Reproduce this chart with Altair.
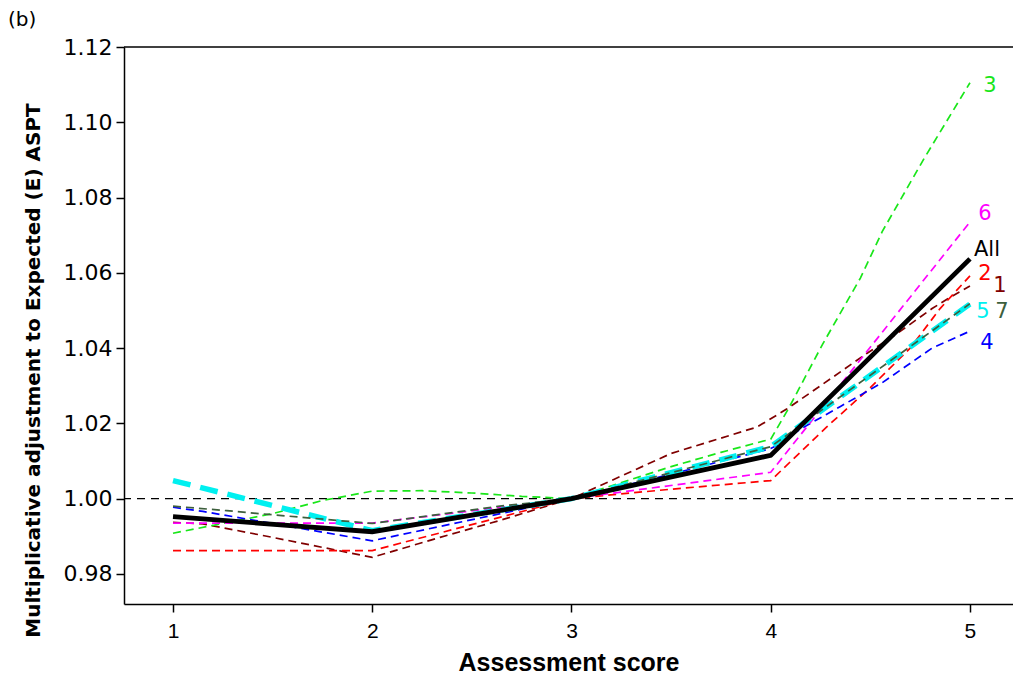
import altair as alt
import pandas as pd

# ---- data ----
x1 = [1, 1.15, 1.5, 2, 2.34, 2.64, 3, 3.5, 3.93, 4, 4.08, 4.31, 4.48, 4.63, 4.81, 4.9, 5]
y1 = [0.9937, 0.9933, 0.9897, 0.9844, 0.9897, 0.9942, 1.000, 1.012, 1.019, 1.0212, 1.0238,
      1.0322, 1.0385, 1.0437, 1.0505, 1.0535, 1.0565]

x2 = [1, 2, 3, 3.5, 4, 4.28, 4.5, 4.7, 4.85, 5]
y2 = [0.9862, 0.9862, 1.000, 1.0025, 1.0048, 1.019, 1.0295, 1.040, 1.0505, 1.0592]

x3 = [1, 1.5, 1.75, 2, 2.25, 2.5, 2.75, 3, 3.5, 3.75, 4, 4.09, 4.26, 4.45, 4.56, 4.77, 5]
y3 = [0.9908, 0.996, 0.9995, 1.002, 1.0021, 1.0015, 1.0006, 1.000, 1.0085, 1.0123, 1.0158,
      1.024, 1.041, 1.0586, 1.071, 1.0904, 1.1105]

x4 = [1, 1.15, 2, 3, 3.5, 4, 4.05, 4.15, 4.35, 4.56, 4.81, 5]
y4 = [0.9977, 0.9966, 0.9888, 1.000, 1.0065, 1.0133, 1.0146, 1.0185, 1.0245, 1.0308, 1.040, 1.0445]

x5 = [1, 2, 3, 4, 5]
y5 = [1.0048, 0.9915, 1.000, 1.0138, 1.0517]

x6 = [1, 2, 3, 4, 5]
y6 = [0.9935, 0.9935, 1.000, 1.007, 1.0735]

x7 = [1, 1.27, 1.5, 2, 2.64, 3, 4, 5]
y7 = [0.998, 0.9968, 0.9957, 0.9934, 0.998, 1.000, 1.0138, 1.0518]

x_all = [1, 2, 3, 4, 5]
y_all = [0.9952, 0.9912, 1.000, 1.0115, 1.0637]

y_ticks = [0.98, 1.00, 1.02, 1.04, 1.06, 1.08, 1.10, 1.12]
x_ticks = [1, 2, 3, 4, 5]

series = [
    # name, xs, ys, colour, width, dash, label dx, label dy
    ("1", x1, y1, "#800000", 1.7, [8, 5], 30, 0),
    ("2", x2, y2, "#ff0000", 1.7, [8, 5], 15, -2),
    ("3", x3, y3, "#19e619", 1.7, [8, 5], 20, 3),
    ("4", x4, y4, "#0000ff", 1.7, [8, 5], 17, 12),
    ("6", x6, y6, "#ff00ff", 1.7, [8, 5], 15, -8),
    ("5", x5, y5, "#00f0f0", 5.5, [18, 10], 13, 8),
    ("7", x7, y7, "#3d5f3d", 1.7, [8, 5], 32, 8),
    ("All", x_all, y_all, "#000000", 4.8, None, 17, -9),
]

W, H = 889, 557
xscale = alt.Scale(domain=[0.754, 5.216], nice=False, zero=False)
yscale = alt.Scale(domain=[0.972, 1.12], nice=False, zero=False)

x_enc = alt.X("score:Q", scale=xscale, axis=alt.Axis(
    values=x_ticks, format="d", title="Assessment score",
    labelFont="Liberation Sans Narrow, Liberation Sans", labelFontSize=21, labelPadding=8,
    titleFont="Liberation Sans", titleFontSize=25, titleFontWeight="bold",
    titleY=58, titleBaseline="middle"))
y_enc = alt.Y("adj:Q", scale=yscale, axis=alt.Axis(
    values=y_ticks, format=".2f", title="Multiplicative adjustment to Expected (E) ASPT",
    labelFont="DejaVu Sans", labelFontSize=22, labelPadding=4,
    titleFont="DejaVu Sans", titleFontSize=20, titleFontWeight="bold",
    titleX=-91, titleY=323, titleAlign="center", titleBaseline="middle", titleAngle=-90))

layers = []

# reference line at 1.00
ref = alt.Chart(pd.DataFrame({"adj": [1.0]})).mark_rule(
    color="black", strokeWidth=1.3, strokeDash=[8, 6]).encode(y=y_enc)
layers.append(ref)

# top frame line
top = alt.Chart(pd.DataFrame({"adj": [1.12]})).mark_rule(
    color="black", strokeWidth=1.5).encode(y=y_enc)
layers.append(top)

for name, xs, ys, col, w, dash, dx, dy in series:
    df = pd.DataFrame({"score": xs, "adj": ys, "series": name})
    kw = dict(color=col, strokeWidth=w, clip=True)
    if dash:
        kw["strokeDash"] = dash
    layers.append(alt.Chart(df).mark_line(**kw).encode(x=x_enc, y=y_enc))

for name, xs, ys, col, w, dash, dx, dy in series:
    dfl = pd.DataFrame({"score": [xs[-1]], "adj": [ys[-1]], "lab": [name]})
    layers.append(alt.Chart(dfl).mark_text(
        color=col, font="DejaVu Sans", fontSize=21, align="center", baseline="middle",
        dx=dx, dy=dy).encode(x=x_enc, y=y_enc, text="lab:N"))

panel = alt.Chart(pd.DataFrame({"t": ["(b)"]})).mark_text(
    font="DejaVu Sans", fontSize=20, align="left", baseline="middle", color="black"
).encode(x=alt.value(-116), y=alt.value(-27), text="t:N")
layers.append(panel)

chart = alt.layer(*layers).properties(
    width=W, height=H,
    autosize=alt.AutoSizeParams(type="none"),
    padding={"left": 124, "top": 47, "right": 0, "bottom": 75},
    background="white",
).configure_view(stroke=None).configure_axis(
    grid=False, domainColor="black", domainWidth=1.5, tickColor="black",
    tickWidth=1.5, tickSize=8, labelColor="black", titleColor="black")

chart.save("out.html", embed_options={"renderer": "svg", "actions": False})
